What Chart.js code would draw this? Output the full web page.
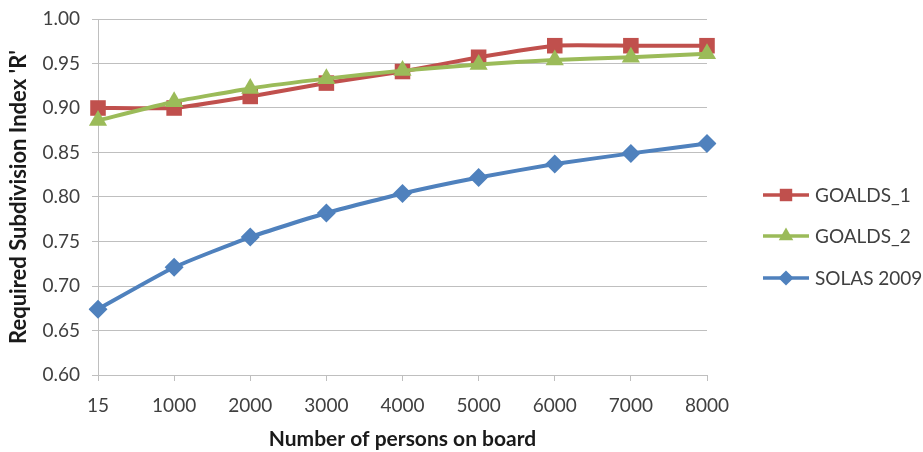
<!DOCTYPE html>
<html>
<head>
<meta charset="utf-8">
<script src="https://cdn.jsdelivr.net/npm/chart.js@4.4.1/dist/chart.umd.min.js"></script>
<style>
html,body{margin:0;padding:0;background:#fff;}
#wrap{width:923px;height:452px;position:relative;}
</style>
</head>
<body>
<div id="wrap"><canvas id="c" width="923" height="452"></canvas></div>
<script>
const categories = ['15','1000','2000','3000','4000','5000','6000','7000','8000'];
const goalds1 = [0.900, 0.900, 0.913, 0.928, 0.941, 0.957, 0.970, 0.970, 0.970];
const goalds2 = [0.886, 0.907, 0.922, 0.933, 0.942, 0.949, 0.954, 0.957, 0.961];
const solas2009 = [0.674, 0.721, 0.755, 0.782, 0.804, 0.822, 0.837, 0.849, 0.860];
const seriesNames = ['GOALDS_1', 'GOALDS_2', 'SOLAS 2009'];
const yTicks = [0.60, 0.65, 0.70, 0.75, 0.80, 0.85, 0.90, 0.95, 1.00];
const xTitle = 'Number of persons on board';
const yTitle = "Required Subdivision Index 'R'";

const FONT = 'Lato, "Open Sans", sans-serif';
const colors = ['#C0504D', '#9BBB59', '#4F81BD'];
const shapes = ['rect', 'triangle', 'rectRot'];
const radii = [11, 10.5, 9.5];
const drawOrder = [1, 0, 2];

function drawShape(ctx, shape, x, y, r, color) {
  ctx.save();
  ctx.fillStyle = color;
  ctx.beginPath();
  if (shape === 'rect') {
    const s = r * Math.SQRT1_2;
    ctx.rect(x - s, y - s, 2 * s, 2 * s);
  } else if (shape === 'triangle') {
    ctx.moveTo(x, y - r);
    ctx.lineTo(x + r * Math.cos(Math.PI / 6), y + r / 2);
    ctx.lineTo(x - r * Math.cos(Math.PI / 6), y + r / 2);
    ctx.closePath();
  } else {
    ctx.moveTo(x, y - r);
    ctx.lineTo(x + r, y);
    ctx.lineTo(x, y + r);
    ctx.lineTo(x - r, y);
    ctx.closePath();
  }
  ctx.fill();
  ctx.restore();
}

const legendPlugin = {
  id: 'sideLegend',
  afterDraw(chart) {
    const ctx = chart.ctx;
    const ds = chart.data.datasets;
    const lx0 = 763, lx1 = 809, tx = 815;
    const rows = [195, 236, 278];
    ds.forEach((d, i) => {
      const y = rows[i];
      ctx.save();
      ctx.strokeStyle = d.borderColor;
      ctx.lineWidth = 3.5;
      ctx.beginPath();
      ctx.moveTo(lx0, y);
      ctx.lineTo(lx1, y);
      ctx.stroke();
      drawShape(ctx, d.pointStyle, (lx0 + lx1) / 2, y, d.pointRadius * 0.8, d.borderColor);
      ctx.fillStyle = '#404040';
      ctx.font = '19px ' + FONT;
      ctx.textBaseline = 'middle';
      ctx.textAlign = 'left';
      ctx.fillText(d.label, tx, y + 1);
      ctx.restore();
    });
  }
};

const seriesData = [goalds1, goalds2, solas2009];
const datasets = seriesData.map((vals, i) => ({
  label: seriesNames[i],
  data: vals,
  order: drawOrder[i],
  borderColor: colors[i],
  backgroundColor: colors[i],
  borderWidth: 4,
  pointStyle: shapes[i],
  pointRadius: radii[i],
  pointHoverRadius: radii[i],
  pointBorderWidth: 0,
  pointBackgroundColor: colors[i],
  tension: 0.15,
  fill: false
}));

new Chart(document.getElementById('c'), {
  type: 'line',
  data: { labels: categories, datasets: datasets },
  options: {
    responsive: false,
    animation: false,
    devicePixelRatio: 1,
    layout: { padding: { top: 19, right: 216, left: 0, bottom: 0 } },
    plugins: {
      legend: { display: false },
      tooltip: { enabled: false }
    },
    scales: {
      x: {
        type: 'category',
        offset: false,
        grid: { display: true, drawOnChartArea: false, drawTicks: true, tickLength: 6, color: '#BFBFBF', lineWidth: 1 },
        border: { display: true, color: '#BFBFBF', width: 1 },
        ticks: { color: '#404040', font: { family: FONT, size: 19 }, padding: 13, maxRotation: 0, autoSkip: false },
        title: { display: true, text: xTitle, color: '#1a1a1a', font: { family: FONT, size: 21, weight: 'bold' }, padding: { top: 0, bottom: 0 } },
        afterFit(scale) { scale.height = 77; }
      },
      y: {
        min: 0.60,
        max: 1.00,
        afterBuildTicks(scale) { scale.ticks = yTicks.map(v => ({ value: v })); },
        grid: { color: '#BFBFBF', lineWidth: 1, drawTicks: true, tickLength: 6 },
        border: { display: true, color: '#BFBFBF', width: 1 },
        ticks: { color: '#404040', font: { family: FONT, size: 19, lineHeight: 0.6 }, padding: 12, callback: v => Number(v).toFixed(2) },
        title: { display: true, text: yTitle, color: '#1a1a1a', font: { family: FONT, size: 22, weight: 'bold' }, padding: { top: 6, bottom: 0 } },
        afterFit(scale) { scale.width = 98; }
      }
    }
  },
  plugins: [legendPlugin]
});
</script>
</body>
</html>
